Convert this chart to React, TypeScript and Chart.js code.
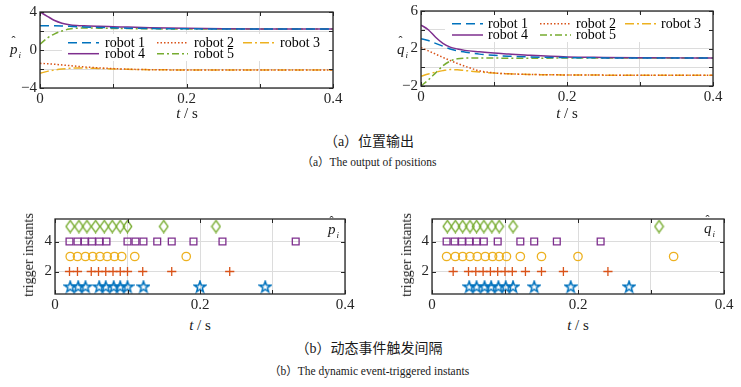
import React, { useEffect, useRef } from 'react';
import { Chart, registerables } from 'chart.js';
Chart.register(...registerables);

// ---------- data ----------
const robotNames = ['robot 1', 'robot 2', 'robot 3', 'robot 4', 'robot 5'];
const robotColors = ['#0072BD', '#D95319', '#EDB120', '#7E2F8E', '#77AC30'];
const robotDashes: number[][] = [[9, 5], [1.5, 2], [9, 3, 2, 3], [], [7, 3, 2, 3]];

// (a) position outputs, sampled times
const tSample = [0, 0.01, 0.02, 0.03, 0.04, 0.05, 0.06, 0.08, 0.1, 0.12, 0.15, 0.2, 0.25, 0.3, 0.35, 0.4];
const pHat1 = [2.55, 2.55, 2.54, 2.52, 2.49, 2.46, 2.43, 2.38, 2.34, 2.3, 2.26, 2.23, 2.21, 2.2, 2.2, 2.2];
const pHat2 = [-1.4, -1.45, -1.5, -1.57, -1.64, -1.71, -1.78, -1.88, -1.96, -2.02, -2.07, -2.1, -2.1, -2.1, -2.1, -2.1];
const pHat3 = [-2.45, -2.25, -2.1, -2.0, -1.93, -1.9, -1.9, -1.94, -1.99, -2.03, -2.07, -2.1, -2.1, -2.1, -2.1, -2.1];
const pHat4 = [4.0, 3.55, 3.1, 2.82, 2.66, 2.58, 2.54, 2.49, 2.45, 2.41, 2.35, 2.28, 2.24, 2.22, 2.21, 2.2];
const pHat5 = [0.6, 1.25, 1.7, 2.0, 2.2, 2.29, 2.31, 2.3, 2.27, 2.25, 2.23, 2.21, 2.2, 2.2, 2.2, 2.2];

const qHat1 = [3.05, 2.85, 2.55, 2.25, 1.95, 1.75, 1.62, 1.4, 1.27, 1.18, 1.1, 1.03, 1.0, 1.0, 1.0, 1.0];
const qHat2 = [2.1, 1.75, 1.4, 1.05, 0.72, 0.4, 0.12, -0.38, -0.6, -0.7, -0.77, -0.82, -0.84, -0.84, -0.84, -0.84];
const qHat3 = [-0.95, -0.72, -0.52, -0.36, -0.25, -0.27, -0.35, -0.5, -0.62, -0.7, -0.77, -0.82, -0.84, -0.84, -0.84, -0.84];
const qHat4 = [4.5, 4.0, 3.2, 2.55, 2.15, 1.95, 1.8, 1.65, 1.52, 1.42, 1.27, 1.1, 1.05, 1.02, 1.0, 1.0];
const qHat5 = [-2.0, -1.35, -0.6, 0.15, 0.65, 0.9, 0.98, 1.0, 0.98, 0.97, 0.97, 0.98, 0.99, 1.0, 1.0, 1.0];

// (b) trigger instants (seconds) for p-hat
const pTrig1 = [0.021, 0.032, 0.042, 0.061, 0.07, 0.081, 0.09, 0.1, 0.122, 0.2, 0.29];
const pTrig2 = [0.02, 0.031, 0.05, 0.06, 0.07, 0.08, 0.09, 0.1, 0.121, 0.161, 0.241];
const pTrig3 = [0.021, 0.031, 0.042, 0.052, 0.062, 0.072, 0.082, 0.092, 0.11, 0.181];
const pTrig4 = [0.02, 0.031, 0.041, 0.051, 0.061, 0.071, 0.1, 0.111, 0.122, 0.141, 0.161, 0.191, 0.231, 0.332];
const pTrig5 = [0.021, 0.033, 0.044, 0.056, 0.068, 0.079, 0.09, 0.1, 0.15, 0.222];
// trigger instants for q-hat
const qTrig1 = [0.051, 0.061, 0.072, 0.081, 0.091, 0.101, 0.111, 0.14, 0.19, 0.27];
const qTrig2 = [0.029, 0.05, 0.06, 0.07, 0.08, 0.09, 0.1, 0.11, 0.128, 0.15, 0.18, 0.241];
const qTrig3 = [0.02, 0.032, 0.042, 0.052, 0.062, 0.073, 0.083, 0.092, 0.102, 0.121, 0.15, 0.2, 0.331];
const qTrig4 = [0.02, 0.031, 0.041, 0.051, 0.061, 0.071, 0.09, 0.121, 0.14, 0.171, 0.231];
const qTrig5 = [0.021, 0.032, 0.042, 0.052, 0.061, 0.071, 0.082, 0.092, 0.111, 0.311];
const robotRows = [1, 2, 3, 4, 5];

// ticks
const xTickValues = [0, 0.1, 0.2, 0.3, 0.4];
const xTickLabels = ['0', '', '0.2', '', '0.4'];
const pYTickValues = [-4, -2, 0, 2, 4];
const pYTickLabels = ['\u22124', '', '0', '', '4'];
const qYTickValues = [-2, 0, 2, 4, 6];
const qYTickLabels = ['\u22122', '', '2', '', '6'];
const trigYTickValues = [2, 4];
const trigYTickLabels = ['2', '4'];

// ---------- style ----------
const serif = '"Liberation Serif", "DejaVu Serif", serif';
const cjk = '"Liberation Serif", "Noto Sans CJK SC", serif';
const Y_W = 30, PAD_T = 10, PAD_R = 16, X_H = 22;

function starImage(color: string) {
  const c = document.createElement('canvas');
  const s = 14;
  c.width = s; c.height = s;
  const g = c.getContext('2d')!;
  g.strokeStyle = color; g.lineWidth = 1.5; g.lineJoin = 'miter';
  g.beginPath();
  const R = 5.9, r = 2.4, cx = s / 2, cy = s / 2 + 0.6;
  for (let k = 0; k < 10; k++) {
    const ang = -Math.PI / 2 + (k * Math.PI) / 5;
    const rad = k % 2 === 0 ? R : r;
    const x = cx + rad * Math.cos(ang), y = cy + rad * Math.sin(ang);
    if (k) g.lineTo(x, y); else g.moveTo(x, y);
  }
  g.closePath(); g.stroke();
  return c;
}
function diamondImage(color: string) {
  const c = document.createElement('canvas');
  c.width = 11; c.height = 14;
  const g = c.getContext('2d')!;
  g.strokeStyle = color; g.lineWidth = 1.3;
  g.beginPath();
  g.moveTo(5.5, 1); g.lineTo(9.8, 7); g.lineTo(5.5, 13); g.lineTo(1.2, 7); g.closePath();
  g.stroke();
  return c;
}

type Legend = { box: number[]; cols: number[]; rows: number[]; lineLen: number; gap: number };

function makeFrame(legend?: Legend) {
  return {
    id: 'frame',
    afterDatasetsDraw(chart: any) {
      const { ctx, chartArea: a } = chart;
      ctx.save();
      if (legend) {
        ctx.fillStyle = '#ffffff';
        ctx.fillRect(a.left + legend.box[0], a.top + legend.box[1], legend.box[2], legend.box[3]);
        ctx.font = `14px ${serif}`;
        ctx.textBaseline = 'alphabetic';
        ctx.textAlign = 'left';
        chart.data.datasets.forEach((ds: any, i: number) => {
          const x = a.left + legend.cols[i % 3];
          const yb = a.top + legend.rows[Math.floor(i / 3)];
          ctx.save();
          ctx.strokeStyle = ds.borderColor; ctx.lineWidth = 1.5;
          ctx.setLineDash(ds.borderDash || []);
          ctx.beginPath(); ctx.moveTo(x, yb - 4.3); ctx.lineTo(x + legend.lineLen, yb - 4.3); ctx.stroke();
          ctx.restore();
          ctx.fillStyle = '#000';
          ctx.fillText(ds.label, x + legend.lineLen + legend.gap, yb);
        });
      }
      ctx.setLineDash([]);
      ctx.strokeStyle = '#262626';
      ctx.lineWidth = 1;
      const xs = chart.scales.x, ys = chart.scales.y, L = 4;
      ctx.beginPath();
      xs.ticks.forEach((t: any) => {
        const p = Math.round(xs.getPixelForValue(t.value)) + 0.5;
        ctx.moveTo(p, a.bottom); ctx.lineTo(p, a.bottom - L);
        ctx.moveTo(p, a.top); ctx.lineTo(p, a.top + L);
      });
      ys.ticks.forEach((t: any) => {
        const p = Math.round(ys.getPixelForValue(t.value)) + 0.5;
        ctx.moveTo(a.left, p); ctx.lineTo(a.left + L, p);
        ctx.moveTo(a.right, p); ctx.lineTo(a.right - L, p);
      });
      ctx.stroke();
      ctx.lineWidth = 1.3;
      ctx.strokeRect(a.left, a.top, a.right - a.left, a.bottom - a.top);
      ctx.restore();
    },
  };
}

type Spec = {
  area: { l: number; t: number; r: number; b: number };
  kind: 'line' | 'trig';
  series: number[][];
  yMin: number; yMax: number;
  yTicks: number[]; yLabels: string[];
  legend?: Legend;
};

function buildDatasets(spec: Spec) {
  if (spec.kind === 'line') {
    return spec.series.map((vals, i) => ({
      label: robotNames[i],
      data: tSample.map((t, k) => ({ x: t, y: vals[k] })),
      showLine: true,
      borderColor: robotColors[i],
      borderDash: robotDashes[i],
      borderWidth: 1.5,
      pointRadius: 0,
      cubicInterpolationMode: 'monotone',
      fill: false,
    }));
  }
  return spec.series.map((times, i) => {
    const base: any = {
      label: robotNames[i],
      data: times.map((t) => ({ x: t, y: robotRows[i] })),
      showLine: false,
      pointBorderColor: robotColors[i],
      pointBackgroundColor: 'rgba(0,0,0,0)',
      pointBorderWidth: 1.3,
    };
    if (i === 0) { base.pointStyle = starImage(robotColors[i]); base.pointRadius = 6; }
    if (i === 1) { base.pointStyle = 'cross'; base.pointRadius = 4.6; }
    if (i === 2) { base.pointStyle = 'circle'; base.pointRadius = 4.2; }
    if (i === 3) { base.pointStyle = 'rect'; base.pointRadius = 4.8; }
    if (i === 4) { base.pointStyle = diamondImage(robotColors[i]); base.pointRadius = 6; }
    return base;
  });
}

function ChartPanel({ spec }: { spec: Spec }) {
  const ref = useRef<HTMLCanvasElement>(null);
  const left = spec.area.l - Y_W;
  const top = spec.area.t - PAD_T;
  const w = spec.area.r + PAD_R - left;
  const h = spec.area.b + X_H - top;
  useEffect(() => {
    const tickFont = { family: serif, size: 15 };
    const chart = new Chart(ref.current!, {
      type: 'scatter',
      data: { datasets: buildDatasets(spec) as any },
      options: {
        animation: false,
        responsive: false,
        events: [],
        layout: { padding: { top: PAD_T, right: PAD_R, left: 0, bottom: 0 } },
        plugins: { legend: { display: false }, tooltip: { enabled: false } },
        scales: {
          x: {
            type: 'linear', min: 0, max: 0.4,
            afterBuildTicks: (s: any) => { s.ticks = xTickValues.map((v) => ({ value: v })); },
            afterFit: (s: any) => { s.height = X_H; },
            ticks: { callback: (_v: any, i: number) => xTickLabels[i], font: tickFont, color: '#262626', padding: 2, maxRotation: 0, autoSkip: false },
            grid: { color: '#dcdcdc', lineWidth: 1, drawTicks: false },
            border: { display: false },
          },
          y: {
            type: 'linear', min: spec.yMin, max: spec.yMax,
            afterBuildTicks: (s: any) => { s.ticks = spec.yTicks.map((v) => ({ value: v })); },
            afterFit: (s: any) => { s.width = Y_W; },
            ticks: { callback: (_v: any, i: number) => spec.yLabels[i], font: tickFont, color: '#262626', padding: 3, autoSkip: false },
            grid: { color: '#dcdcdc', lineWidth: 1, drawTicks: false },
            border: { display: false },
          },
        },
      } as any,
      plugins: [makeFrame(spec.legend)],
    });
    return () => chart.destroy();
  }, []);
  return (
    <canvas ref={ref} width={w} height={h}
      style={{ position: 'absolute', left, top, width: w, height: h }} />
  );
}

function Txt({ x, y, size = 14, font = serif, rotate = false, children }: any) {
  return (
    <div style={{
      position: 'absolute', left: x, top: y, fontFamily: font, fontSize: size, lineHeight: 1,
      whiteSpace: 'nowrap', color: '#1a1a1a',
      transform: `translate(-50%,-50%)${rotate ? ' rotate(-90deg)' : ''}`,
    }}>{children}</div>
  );
}

function HatLabel({ x, y, letter }: { x: number; y: number; letter: string }) {
  return (
    <div style={{ position: 'absolute', left: x, top: y, transform: 'translate(-50%,-50%)', fontFamily: serif, fontSize: 15, lineHeight: 1, whiteSpace: 'nowrap', color: '#1a1a1a' }}>
      <span style={{ position: 'relative', fontStyle: 'italic' }}>
        {letter}
        <span style={{ position: 'absolute', left: '0.12em', top: '-0.5em', fontStyle: 'normal', fontSize: 12 }}>ˆ</span>
      </span>
      <span style={{ fontSize: 9, fontStyle: 'italic', position: 'relative', top: 4, left: 1 }}>i</span>
    </div>
  );
}

const TS = () => (<span><i>t</i> / s</span>);

export default function App() {
  const specs: Spec[] = [
    {
      area: { l: 40, t: 10, r: 333, b: 88 }, kind: 'line',
      series: [pHat1, pHat2, pHat3, pHat4, pHat5], yMin: -4, yMax: 4,
      yTicks: pYTickValues, yLabels: pYTickLabels,
      legend: { box: [22, 22, 266, 27], cols: [28, 117, 203], rows: [35, 46], lineLen: 31, gap: 6 },
    },
    {
      area: { l: 421, t: 9, r: 713, b: 86 }, kind: 'line',
      series: [qHat1, qHat2, qHat3, qHat4, qHat5], yMin: -2, yMax: 6,
      yTicks: qYTickValues, yLabels: qYTickLabels,
      legend: { box: [24, 3, 268, 28], cols: [31, 119, 204], rows: [17, 28.3], lineLen: 31, gap: 5 },
    },
    {
      area: { l: 55, t: 217, r: 345, b: 294 }, kind: 'trig',
      series: [pTrig1, pTrig2, pTrig3, pTrig4, pTrig5], yMin: 0.5, yMax: 5.5,
      yTicks: trigYTickValues, yLabels: trigYTickLabels,
    },
    {
      area: { l: 432, t: 217, r: 724, b: 294 }, kind: 'trig',
      series: [qTrig1, qTrig2, qTrig3, qTrig4, qTrig5], yMin: 0.5, yMax: 5.5,
      yTicks: trigYTickValues, yLabels: trigYTickLabels,
    },
  ];
  return (
    <div style={{ position: 'fixed', left: 0, top: 0, width: 741, height: 387, background: '#fff', overflow: 'hidden' }}>
      {specs.map((s, i) => <ChartPanel key={i} spec={s} />)}
      <HatLabel x={15} y={49} letter="p" />
      <HatLabel x={402} y={49} letter="q" />
      <HatLabel x={333} y={229} letter="p" />
      <HatLabel x={709} y={228} letter="q" />
      <Txt x={187} y={113} size={15}><TS /></Txt>
      <Txt x={567} y={113} size={15}><TS /></Txt>
      <Txt x={200} y={325} size={15}><TS /></Txt>
      <Txt x={578} y={325} size={15}><TS /></Txt>
      <Txt x={29} y={255} rotate>trigger instants</Txt>
      <Txt x={407} y={255} rotate>trigger instants</Txt>
      <Txt x={369} y={142} size={14} font={cjk}>（a）位置输出</Txt>
      <Txt x={369} y={163} size={11.5} font={cjk}>（a）The output of positions</Txt>
      <Txt x={369} y={349} size={14} font={cjk}>（b）动态事件触发间隔</Txt>
      <Txt x={369} y={372} size={11.5} font={cjk}>（b）The dynamic event-triggered instants</Txt>
    </div>
  );
}
